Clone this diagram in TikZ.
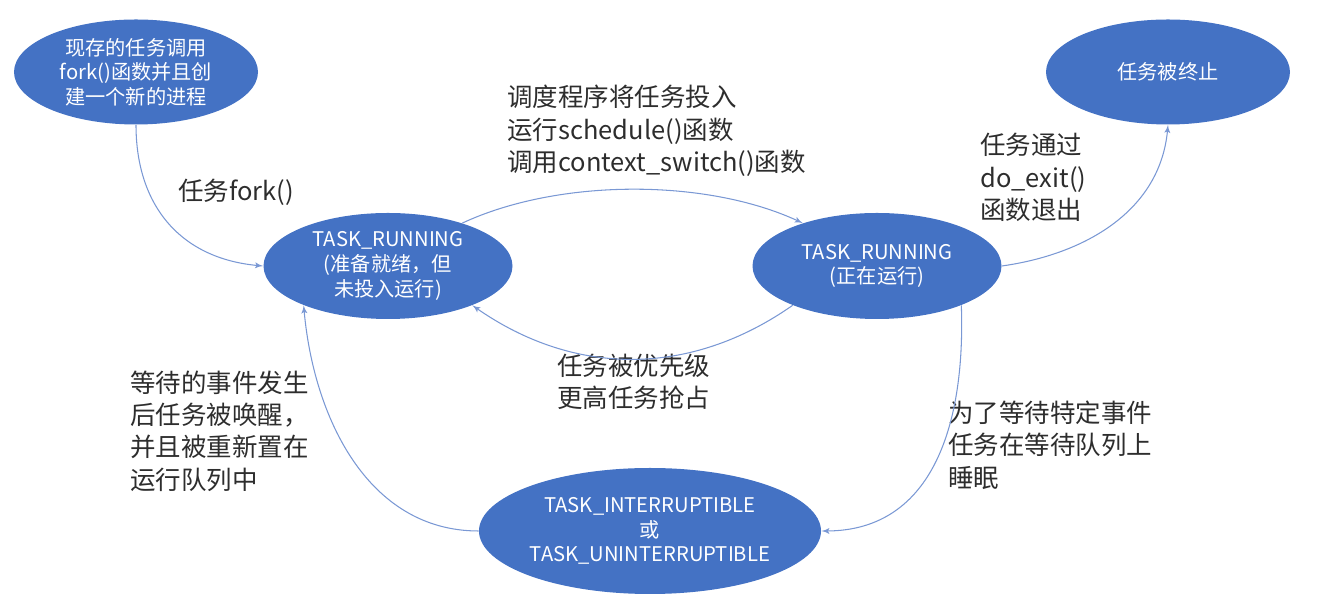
\documentclass[tikz,border=0pt]{standalone}
\usepackage{fontspec}
\setmainfont{Noto Sans CJK SC}
\usetikzlibrary{shapes, arrows}
\definecolor{stateblue}{RGB}{68,114,196}
\definecolor{edgeblue}{RGB}{122,152,212}
\definecolor{labelgray}{RGB}{45,45,45}

\begin{document}
\begin{tikzpicture}
    \tikzstyle{state} = [ellipse, fill=stateblue, text=white, align=center,
    inner sep=0pt, font=\fontsize{11.5}{14}\selectfont]
    \tikzstyle{endstate} = [state, minimum width=4.88cm, minimum height=2.1cm]
    \tikzstyle{runstate} = [state, minimum width=4.98cm, minimum height=2.12cm]
    \tikzstyle{waitstate} = [state, minimum width=6.84cm, minimum height=2.52cm]
    \tikzstyle{note} = [anchor=west, align=left, inner sep=0pt, text=labelgray,
    font=\fontsize{14.5}{18.4}\selectfont]
    \tikzstyle{line} = [draw=edgeblue, line width=0.6pt, -latex']
    \useasboundingbox (0,0) rectangle (26.34,12.24);
    \node [endstate] (fork) at (2.72,10.80) {现存的任务调用\\fork()函数并且创\\建一个新的进程};
    \node [endstate] (dead) at (23.36,10.80) {任务被终止};
    \node [runstate] (ready) at (7.76,6.92) {TASK\_RUNNING\\(准备就绪，但\\未投入运行)};
    \node [runstate] (running) at (17.54,6.92) {TASK\_RUNNING\\(正在运行)};
    \node [waitstate] (sleep) at (13.00,1.62) {TASK\_INTERRUPTIBLE\\或\\TASK\_UNINTERRUPTIBLE};
    \node [note] (forklabel) at (3.56,8.40) {任务fork()};
    \node [note] (schedlabel) at (10.14,9.62) {调度程序将任务投入\\运行schedule()函数\\调用context\_switch()函数};
    \node [note] (exitlabel) at (19.60,8.69) {任务通过\\do\_exit()\\函数退出};
    \node [note] (preemptlabel) at (11.14,4.60) {任务被优先级\\更高任务抢占};
    \node [note] (sleeplabel) at (18.96,3.34) {为了等待特定事件\\任务在等待队列上\\睡眠};
    \node [note] (wakelabel) at (2.60,3.62) {等待的事件发生\\后任务被唤醒，\\并且被重新置在\\运行队列中};
    \path [line] (fork.south) to [out=-90, in=175, looseness=1.1] (ready.west);
    \path [line] (ready.30) to [out=25, in=155, looseness=0.8] (running.150);
    \path [line] (running.205) to [out=215, in=-35] (ready.-25);
    \path [line] (running.east) to [out=8, in=-95] (dead.south);
    \path [line] (running.-25) to [out=-88, in=0, looseness=1.1] (sleep.east);
    \path [line] (sleep.west) to [out=180, in=-85] (ready.205);
\end{tikzpicture}
\end{document}
